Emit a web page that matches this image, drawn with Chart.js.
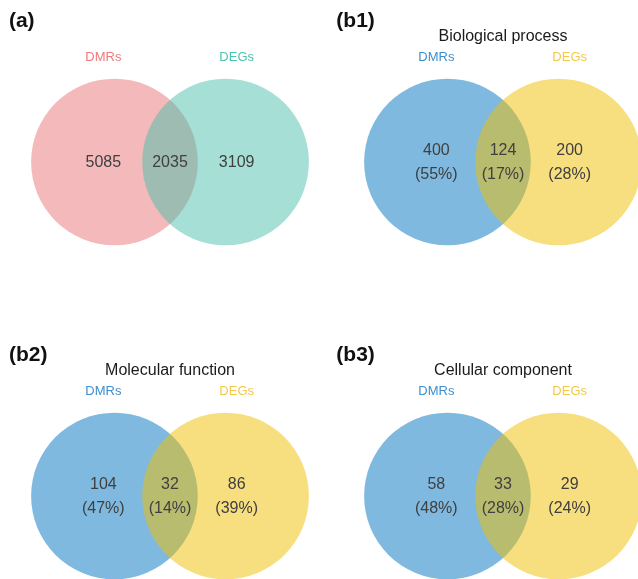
<!DOCTYPE html>
<html>
<head>
<meta charset="utf-8">
<script src="https://cdn.jsdelivr.net/npm/chart.js@4.4.0/dist/chart.umd.min.js"></script>
<style>
  html, body { margin: 0; padding: 0; width: 638px; height: 579px; overflow: hidden; background: #fff; }
  canvas { position: absolute; }
</style>
</head>
<body>
<canvas id="p0" width="340" height="340" style="left:0px;top:-8px"></canvas>
<canvas id="p1" width="340" height="340" style="left:333px;top:-8px"></canvas>
<canvas id="p2" width="340" height="340" style="left:0px;top:326px"></canvas>
<canvas id="p3" width="340" height="340" style="left:333px;top:326px"></canvas>
<script>
"use strict";
// one Venn per panel: counts
const panelTags = ["(a)", "(b1)", "(b2)", "(b3)"];
const panelTitles = ["", "Biological process", "Molecular function", "Cellular component"];
const setNames = ["DMRs", "DEGs"];
const dmrOnly = [5085, 400, 104, 58];
const shared = [2035, 124, 32, 33];
const degOnly = [3109, 200, 86, 29];
const withPercent = [false, true, true, true];

const fills = [
  ["rgba(234,115,118,0.5)", "rgba(75,191,171,0.5)"],
  ["rgba(0,115,194,0.5)", "rgba(239,192,0,0.5)"],
  ["rgba(0,115,194,0.5)", "rgba(239,192,0,0.5)"],
  ["rgba(0,115,194,0.5)", "rgba(239,192,0,0.5)"]
];
const nameColors = [
  ["#F0797C", "#4CC4AE"],
  ["#3E8FCF", "#F3C94A"],
  ["#3E8FCF", "#F3C94A"],
  ["#3E8FCF", "#F3C94A"]
];
const tagX = [-2.9, -3.0, -2.9, -3.0];

const FONT = "'Liberation Sans', Arial, sans-serif";
const AXIS_MIN = -3.06, AXIS_MAX = 3.06;
const circleR = 1.5;   // radius in axis units, centres at -1 and 1
const labelX = 1.2;

function unitRadius(c) {
  const s = c.chart.scales.x;
  let r = s ? s.getPixelForValue(circleR) - s.getPixelForValue(0) : NaN;
  if (!(r > 0)) r = c.chart.width * circleR / (AXIS_MAX - AXIS_MIN);
  return r;
}

const vennText = {
  id: "vennText",
  afterDatasetsDraw(chart, args, opts) {
    const ctx = chart.ctx;
    const x = chart.scales.x, y = chart.scales.y;
    const i = opts.panel;
    ctx.save();
    ctx.textBaseline = "middle";

    ctx.textAlign = "left";
    ctx.fillStyle = "#111";
    ctx.font = "bold 21px " + FONT;
    ctx.fillText(panelTags[i], x.getPixelForValue(tagX[i]), y.getPixelForValue(2.54));

    ctx.textAlign = "center";
    if (panelTitles[i]) {
      ctx.font = "16px " + FONT;
      ctx.fillStyle = "#1a1a1a";
      ctx.fillText(panelTitles[i], x.getPixelForValue(0), y.getPixelForValue(2.26));
    }

    ctx.font = "13px " + FONT;
    setNames.forEach((name, k) => {
      ctx.fillStyle = nameColors[i][k];
      ctx.fillText(name, x.getPixelForValue(k === 0 ? -labelX : labelX), y.getPixelForValue(1.885));
    });

    const counts = [dmrOnly[i], shared[i], degOnly[i]];
    const total = counts[0] + counts[1] + counts[2];
    const xs = [-labelX, 0, labelX];
    ctx.font = "16px " + FONT;
    ctx.fillStyle = "#404040";
    counts.forEach((c, k) => {
      if (withPercent[i]) {
        ctx.fillText(String(c), x.getPixelForValue(xs[k]), y.getPixelForValue(0.2));
        ctx.fillText("(" + Math.round(c / total * 100) + "%)", x.getPixelForValue(xs[k]), y.getPixelForValue(-0.23));
      } else {
        ctx.fillText(String(c), x.getPixelForValue(xs[k]), y.getPixelForValue(-0.01));
      }
    });
    ctx.restore();
  }
};

panelTags.forEach((tag, i) => {
  const ctx = document.getElementById("p" + i).getContext("2d");
  new Chart(ctx, {
    type: "bubble",
    data: {
      datasets: [{
        label: tag,
        data: [{ x: -1, y: 0 }, { x: 1, y: 0 }],
        backgroundColor: fills[i],
        borderWidth: 0,
        radius: unitRadius,
        hoverRadius: 0,
        clip: false
      }]
    },
    options: {
      responsive: false,
      animation: false,
      events: [],
      layout: { padding: 0, autoPadding: false },
      scales: {
        x: { type: "linear", min: AXIS_MIN, max: AXIS_MAX, display: false },
        y: { type: "linear", min: AXIS_MIN, max: AXIS_MAX, display: false }
      },
      plugins: {
        legend: { display: false },
        tooltip: { enabled: false },
        vennText: { panel: i }
      }
    },
    plugins: [vennText]
  });
});
</script>
</body>
</html>
